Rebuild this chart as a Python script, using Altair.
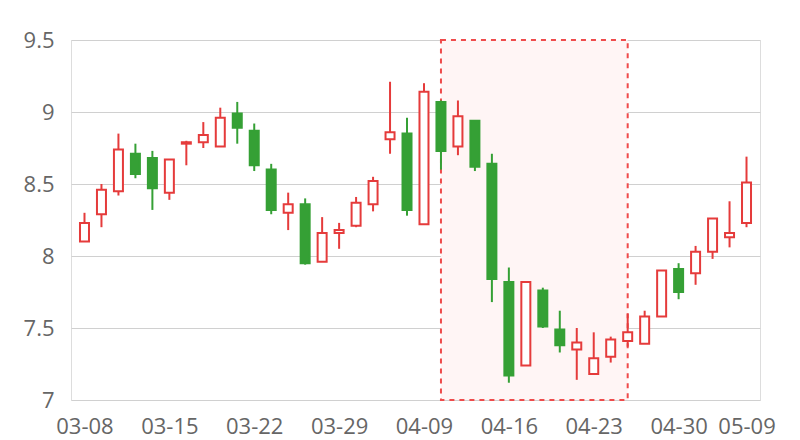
import altair as alt
import pandas as pd

dates = ["03-08", "03-09", "03-12", "03-13", "03-14", "03-15", "03-16", "03-19", "03-20", "03-21",
         "03-22", "03-23", "03-26", "03-27", "03-28", "03-29", "03-30", "04-02", "04-03", "04-04",
         "04-09", "04-10", "04-11", "04-12", "04-13", "04-16", "04-17", "04-18", "04-19", "04-20",
         "04-23", "04-24", "04-25", "04-26", "04-27", "04-30", "05-02", "05-03", "05-08", "05-09"]
opens = [8.10, 8.29, 8.45, 8.71, 8.68, 8.44, 8.78, 8.79, 8.76, 8.99,
         8.87, 8.60, 8.30, 8.36, 7.96, 8.16, 8.21, 8.36, 8.81, 8.85,
         8.22, 9.07, 8.76, 8.94, 8.64, 7.82, 7.24, 7.76, 7.49, 7.35,
         7.18, 7.30, 7.41, 7.39, 7.58, 7.91, 7.88, 8.03, 8.13, 8.23]
closes = [8.23, 8.46, 8.74, 8.57, 8.47, 8.67, 8.79, 8.84, 8.96, 8.89,
          8.63, 8.32, 8.36, 7.95, 8.16, 8.18, 8.37, 8.52, 8.86, 8.32,
          9.14, 8.73, 8.97, 8.62, 7.84, 7.17, 7.82, 7.51, 7.38, 7.40,
          7.29, 7.42, 7.47, 7.58, 7.90, 7.75, 8.03, 8.26, 8.16, 8.51]
lows = [8.10, 8.20, 8.42, 8.54, 8.32, 8.39, 8.63, 8.75, 8.76, 8.78,
        8.59, 8.29, 8.18, 7.94, 7.96, 8.05, 8.20, 8.31, 8.71, 8.28,
        8.22, 8.60, 8.70, 8.59, 7.68, 7.12, 7.24, 7.50, 7.33, 7.14,
        7.18, 7.26, 7.37, 7.39, 7.58, 7.70, 7.80, 7.98, 8.06, 8.20]
highs = [8.30, 8.50, 8.85, 8.78, 8.73, 8.67, 8.80, 8.93, 9.03, 9.07,
         8.92, 8.64, 8.44, 8.40, 8.27, 8.23, 8.41, 8.55, 9.21, 8.96,
         9.20, 9.08, 9.08, 8.94, 8.71, 7.92, 7.82, 7.78, 7.62, 7.50,
         7.47, 7.44, 7.60, 7.62, 7.90, 7.95, 8.07, 8.26, 8.38, 8.69]

highlight_dates = ["04-10", "04-25"]
y_ticks = [7, 7.5, 8, 8.5, 9, 9.5]
label_dates = ["03-08", "03-15", "03-22", "03-29", "04-09", "04-16", "04-23", "04-30", "05-09"]

RED = "#e53b3b"
GREEN = "#35a035"

df = pd.DataFrame({
    "i": list(range(len(dates))),
    "date": dates,
    "open": opens,
    "close": closes,
    "low": lows,
    "high": highs,
})
df["dir"] = ["up" if c >= o else "down" for o, c in zip(opens, closes)]

hl = pd.DataFrame({
    "x1": [dates.index(highlight_dates[0])],
    "x2": [dates.index(highlight_dates[1])],
    "y1": [y_ticks[-1]],
    "y2": [y_ticks[0]],
})

label_expr = "[" + ",".join("'" + d + "'" for d in dates) + "][datum.value]"
x_scale = alt.Scale(domain=[-0.5, len(dates) - 0.5], nice=False, zero=False)
y_scale = alt.Scale(domain=[y_ticks[0], y_ticks[-1]], nice=False, zero=False)

x_axis = alt.Axis(values=[dates.index(d) for d in label_dates], labelExpr=label_expr,
                  title=None, grid=False, ticks=False, domain=False, labelFont="Open Sans",
                  labelFontSize=22, labelColor="#666666", labelPadding=16, labelOverlap=False)
y_axis = alt.Axis(values=y_ticks, format="~g", title=None, ticks=False, domain=False,
                  grid=True, gridColor="#d0d0d0", labelFont="Open Sans", labelFontSize=22,
                  labelColor="#666666", labelPadding=17, minExtent=63, maxExtent=63)

area = alt.Chart(hl).mark_rect(fill="#fff5f5", stroke="#ef4b4b", strokeWidth=2,
                               strokeDash=[5, 5]).encode(
    x=alt.X("x1:Q", scale=x_scale, axis=x_axis),
    x2="x2:Q",
    y=alt.Y("y1:Q", scale=y_scale, axis=y_axis),
    y2="y2:Q",
)

color = alt.Color("dir:N", scale=alt.Scale(domain=["up", "down"], range=[RED, GREEN]), legend=None)

wick = alt.Chart(df).mark_rule(strokeWidth=2).encode(
    x=alt.X("i:Q", scale=x_scale, axis=x_axis),
    y=alt.Y("low:Q", scale=y_scale, axis=y_axis),
    y2="high:Q",
    color=color,
)

body = alt.Chart(df).mark_bar(size=9, strokeWidth=2).encode(
    x=alt.X("i:Q", scale=x_scale, axis=x_axis),
    y=alt.Y("open:Q", scale=y_scale, axis=y_axis),
    y2="close:Q",
    stroke=alt.Stroke("dir:N", scale=alt.Scale(domain=["up", "down"], range=[RED, GREEN]), legend=None),
    fill=alt.Fill("dir:N", scale=alt.Scale(domain=["up", "down"], range=["#ffffff", GREEN]), legend=None),
)

chart = alt.layer(area, wick, body).properties(
    width=689, height=360,
    autosize=alt.AutoSizeParams(type="none"),
    padding={"left": 63, "top": 32, "right": 32, "bottom": 44},
).configure_view(stroke="#d0d0d0", strokeWidth=1).configure(background="white")

chart.save("out.html", embed_options={"renderer": "svg", "actions": False})
